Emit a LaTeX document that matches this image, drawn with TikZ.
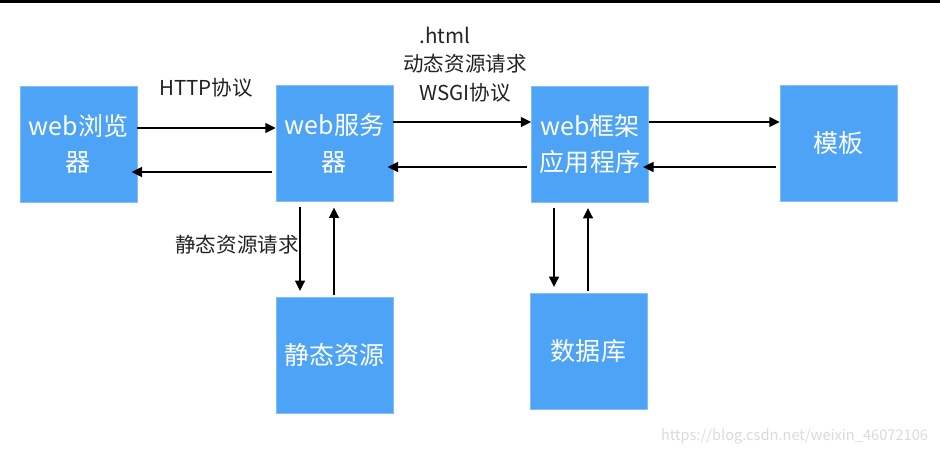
\documentclass[tikz,border=0pt]{standalone}
\usepackage{fontspec}
\newfontfamily\cjk{Noto Sans CJK SC}
\usetikzlibrary{arrows.meta}
\definecolor{boxblue}{RGB}{77,163,245}
\definecolor{textgray}{RGB}{34,34,34}
\definecolor{markgray}{RGB}{218,218,218}

\begin{document}
\begin{tikzpicture}[x=0.025cm,y=-0.025cm]
    \tikzstyle{box}=[rectangle, fill=boxblue, draw=boxblue!70!white, minimum width=2.92cm, minimum height=2.9cm, inner sep=0pt, align=center, text=white, font=\cjk\fontsize{17.8}{26}\selectfont]
    \tikzstyle{protocol}=[text=textgray, align=center, font=\cjk\fontsize{14.6}{20.6}\selectfont]
    \tikzstyle{go}=[line width=1.5pt, -{Triangle[length=7.5pt,width=7pt]}]
    \tikzstyle{back}=[go, shorten <=3pt, shorten >=-4pt]
    \tikzstyle{down}=[go, shorten <=4pt, shorten >=4pt]
    \tikzstyle{up}=[go, shorten <=1pt, shorten >=4pt]

    \useasboundingbox (0,0) rectangle (940,455);
    \fill[black] (0,0) rectangle (940,2.5);

    % boxes
    \node[box] (browser) at (78.5,144) {web浏览\\器};
    \node[box] (server) at (334.5,143.5) {web服务\\器};
    \node[box] (framework) at (590,144) {web框架\\应用程序};
    \node[box] (template) at (838.5,143.5) {模板};
    \node[box] (static) at (334.5,355) {静态资源};
    \node[box] (database) at (588.5,351) {数据库};

    % texts
    \node[protocol] (http) at (206,88) {HTTP协议};
    \node[protocol] (html) at (445,35) {.html};
    \node[protocol] (wsgi) at (465,78) {动态资源请求\\WSGI协议};
    \node[protocol] (staticreq) at (237,245) {静态资源请求};

    % horizontal arrows
    \draw[go] (browser.east |- 0,128) -- (server.west |- 0,128);
    \draw[back] (server.west |- 0,172) -- (browser.east |- 0,172);
    \draw[go] (server.east |- 0,122) -- (framework.west |- 0,122);
    \draw[back] (framework.west |- 0,167) -- (server.east |- 0,167);
    \draw[go] (framework.east |- 0,122) -- (template.west |- 0,122);
    \draw[back] (template.west |- 0,167) -- (framework.east |- 0,167);

    % vertical arrows
    \draw[down] (server.south -| 300,0) -- (static.north -| 300,0);
    \draw[up] (static.north -| 334,0) -- (server.south -| 334,0);
    \draw[down] (framework.south -| 554,0) -- (database.north -| 554,0);
    \draw[up] (database.north -| 588,0) -- (framework.south -| 588,0);

    % watermark
    \node[text=markgray, font=\cjk\fontsize{10.4}{12}\selectfont] (mark) at (794.5,436) {https://blog.csdn.net/weixin\_46072106};
\end{tikzpicture}
\end{document}
